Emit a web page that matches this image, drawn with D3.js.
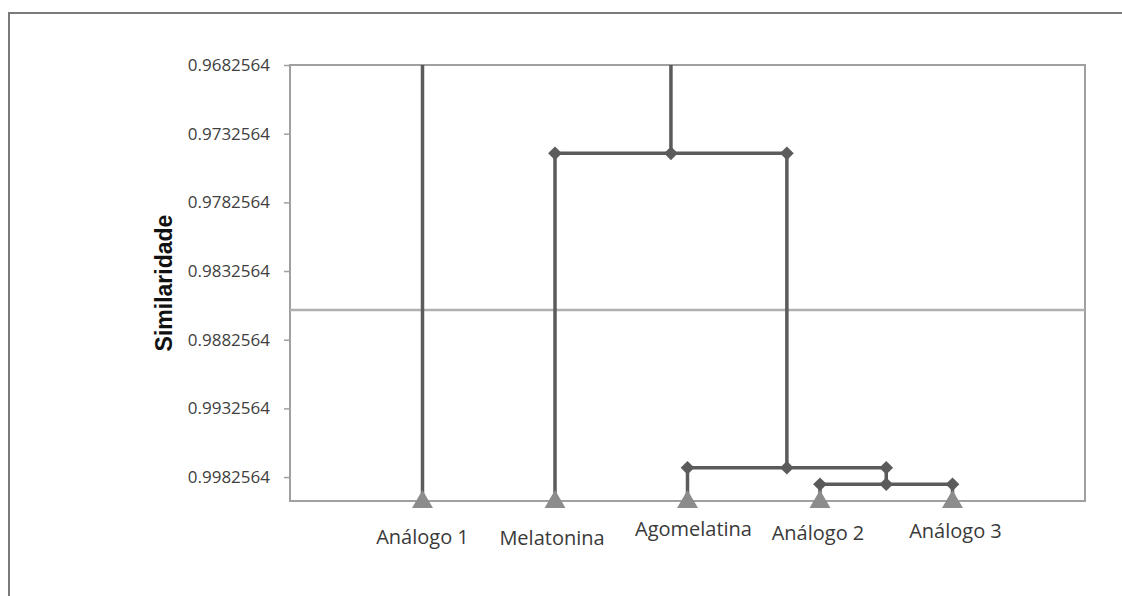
<!DOCTYPE html>
<html>
<head>
<meta charset="utf-8">
<script src="https://cdn.jsdelivr.net/npm/d3@7"></script>
<style>
  body { margin: 0; background: #fff; }
  svg { display: block; }
</style>
</head>
<body>
<svg id="chart" width="1122" height="596"></svg>
<script>
// Leaves of the dendrogram, left to right
const leafNames = ["Análogo 1", "Melatonina", "Agomelatina", "Análogo 2", "Análogo 3"];

// Merges: children (leaf name or index of an earlier merge) and the similarity they join at
const mergeChildren = [
    ["Análogo 2", "Análogo 3"],
    ["Agomelatina", 0],
    ["Melatonina", 1],
    ["Análogo 1", 2]
];
const mergeHeights = [0.99878, 0.99758, 0.97469, 0.9650];

// Y axis ticks and the cut line
const yTicks = [0.9682564, 0.9732564, 0.9782564, 0.9832564, 0.9882564, 0.9932564, 0.9982564];
const yMin = 0.9682564;
const yMax = 1.0;
const cutLevel = 0.98609;

// label nudges (layout only), as in the original chart
const labelNudge = [[0, 3], [-3, 4], [6, -5], [-2, -1], [3, -3]];

const svg = d3.select("#chart");
const margin = { left: 290, right: 1085, top: 65, bottom: 501 };

const x = d3.scaleLinear().domain([0, leafNames.length + 1]).range([margin.left, margin.right]);
const y = d3.scaleLinear().domain([yMin, yMax]).range([margin.top, margin.bottom]);

// outer frame (runs off the right and bottom edges)
svg.append("path")
    .attr("d", `M9,596 V13 H1122`)
    .attr("fill", "none")
    .attr("stroke", "#7a7a7a")
    .attr("stroke-width", 2);

// plot frame
svg.append("rect")
    .attr("x", margin.left)
    .attr("y", margin.top)
    .attr("width", margin.right - margin.left)
    .attr("height", margin.bottom - margin.top)
    .attr("fill", "none")
    .attr("stroke", "#a0a0a0")
    .attr("stroke-width", 2);

// y axis ticks and labels
const yAxis = d3.axisLeft(y)
    .tickValues(yTicks)
    .tickSize(6)
    .tickFormat(d => d.toFixed(7));

const yg = svg.append("g")
    .attr("transform", `translate(${margin.left},0)`)
    .call(yAxis);
yg.select(".domain").remove();
yg.selectAll(".tick line").attr("stroke", "#a0a0a0").attr("stroke-width", 1.5);
yg.selectAll(".tick text")
    .attr("x", -20)
    .attr("fill", "#404040")
    .style("font-family", "'Open Sans', sans-serif")
    .style("font-size", "17px");

// axis title
svg.append("text")
    .attr("transform", "translate(172,283) rotate(-90)")
    .attr("text-anchor", "middle")
    .attr("fill", "#111")
    .style("font-family", "'Liberation Sans', Arial, sans-serif")
    .style("font-weight", "bold")
    .style("font-size", "23px")
    .text("Similaridade");

// cut line
svg.append("line")
    .attr("x1", margin.left)
    .attr("x2", margin.right)
    .attr("y1", y(cutLevel))
    .attr("y2", y(cutLevel))
    .attr("stroke", "#b0b0b0")
    .attr("stroke-width", 2.5);

// build node positions
function nodeX(c) {
    return typeof c === "string" ? leafNames.indexOf(c) + 1 : merges[c].x;
}
function nodeH(c) {
    return typeof c === "string" ? yMax : merges[c].h;
}
const merges = [];
mergeChildren.forEach((pair, i) => {
    const x1 = nodeX(pair[0]), x2 = nodeX(pair[1]);
    merges.push({ left: x1, right: x2, x: (x1 + x2) / 2, h: mergeHeights[i],
                  hl: nodeH(pair[0]), hr: nodeH(pair[1]) });
});

svg.append("clipPath").attr("id", "plotclip")
    .append("rect")
    .attr("x", margin.left - 20)
    .attr("y", margin.top)
    .attr("width", margin.right - margin.left + 40)
    .attr("height", margin.bottom - margin.top + 30);

const dendro = svg.append("g").attr("clip-path", "url(#plotclip)");
const lineColor = "#5b5b5b";

merges.forEach(m => {
    const path = d3.path();
    path.moveTo(x(m.left), y(m.hl));
    path.lineTo(x(m.left), y(m.h));
    path.lineTo(x(m.right), y(m.h));
    path.lineTo(x(m.right), y(m.hr));
    dendro.append("path")
        .attr("d", path.toString())
        .attr("fill", "none")
        .attr("stroke", lineColor)
        .attr("stroke-width", 3.5);
});

// diamonds at both ends and middle of each join
const diamond = d3.symbol().type(d3.symbolDiamond2).size(120);
merges.forEach(m => {
    [m.left, m.x, m.right].forEach(px => {
        dendro.append("path")
            .attr("d", diamond())
            .attr("transform", `translate(${x(px)},${y(m.h)})`)
            .attr("fill", lineColor);
    });
});

// triangles on the leaves
const tri = d3.symbol().type(d3.symbolTriangle).size(190);
svg.selectAll(".leaf")
    .data(leafNames)
    .enter().append("path")
    .attr("class", "leaf")
    .attr("d", tri())
    .attr("transform", (d, i) => `translate(${x(i + 1)},${y(yMax) + 1})`)
    .attr("fill", "#8c8c8c");

// leaf labels
svg.selectAll(".leaf-label")
    .data(leafNames)
    .enter().append("text")
    .attr("class", "leaf-label")
    .attr("x", (d, i) => x(i + 1) + labelNudge[i][0])
    .attr("y", (d, i) => 541 + labelNudge[i][1])
    .attr("text-anchor", "middle")
    .attr("fill", "#3a3a3a")
    .style("font-family", "'Open Sans', sans-serif")
    .style("font-size", "20px")
    .text(d => d);
</script>
</body>
</html>
